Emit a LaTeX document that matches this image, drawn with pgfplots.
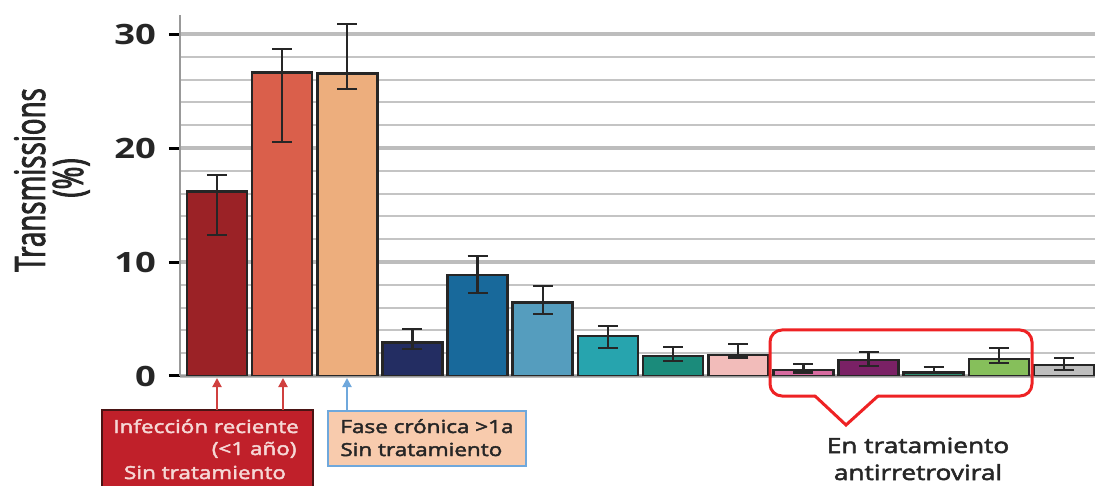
\documentclass[border=0pt]{standalone}
\usepackage{fontspec}
\setmainfont{Open Sans}
\newfontfamily\wideFont{Open Sans}[FakeStretch=1.25, FakeBold=2.5]
\newfontfamily\tickFont{Open Sans}[FakeStretch=1.3]
\newfontfamily\narrowFont{Open Sans}[FakeStretch=0.66, FakeBold=2]
\usepackage{pgfplots}
\pgfplotsset{compat=1.18}
\usetikzlibrary{arrows.meta}

\definecolor{c1}{HTML}{9B2226}
\definecolor{c2}{HTML}{DA5F4B}
\definecolor{c3}{HTML}{EDAE7D}
\definecolor{c4}{HTML}{232D62}
\definecolor{c5}{HTML}{18699B}
\definecolor{c6}{HTML}{559DBE}
\definecolor{c7}{HTML}{27A4AE}
\definecolor{c8}{HTML}{1B8B7B}
\definecolor{c9}{HTML}{F2BCBA}
\definecolor{c10}{HTML}{D76BA0}
\definecolor{c11}{HTML}{7A2165}
\definecolor{c12}{HTML}{2E8B6E}
\definecolor{c13}{HTML}{86BF5B}
\definecolor{c14}{HTML}{BEBEBE}
\definecolor{barline}{HTML}{262626}
\definecolor{gridmajor}{HTML}{BDBDBD}
\definecolor{gridminor}{HTML}{C4C4C4}
\definecolor{axisgray}{HTML}{999999}
\definecolor{boxred}{HTML}{C0202A}
\definecolor{boxredline}{HTML}{4A1414}
\definecolor{boxtext}{HTML}{F6D8D6}
\definecolor{peach}{HTML}{F8CBAD}
\definecolor{peachline}{HTML}{6FA8DC}
\definecolor{arrowred}{HTML}{D0403F}
\definecolor{calloutred}{HTML}{EE2224}
\definecolor{darktext}{HTML}{262626}

\pgfplotsset{
  errbar/.style={
    error bars/y dir=both, error bars/y explicit,
    error bars/error bar style={draw=barline, line width=1.1pt},
    error bars/error mark options={draw=barline, line width=1.1pt, mark size=5pt, rotate=90},
  },
}

\begin{document}
\begin{tikzpicture}
\begin{axis}[
  scale only axis, width=457.5pt, height=180.5pt,
  xmin=-0.567, xmax=13.475, ymin=0, ymax=31.67,
  ybar, bar width=0.92, bar shift=0pt,
  axis lines*=left,
  axis line style={draw=axisgray, line width=1.2pt},
  xtick=\empty,
  ytick={0,10,20,30}, minor ytick={2,4,...,28},
  tick align=outside,
  major tick length=5.5pt, minor tick length=0pt,
  major tick style={draw=black, line width=1.5pt},
  ymajorgrids, yminorgrids,
  major grid style={draw=gridmajor, line width=2pt},
  minor grid style={draw=gridminor, line width=1pt},
  /pgf/number format/assume math mode=true,
  yticklabel style={font=\tickFont\bfseries\fontsize{14}{14}\selectfont, text=black!85, xshift=-3pt},
  every axis plot/.append style={draw=barline, line width=1.3pt, errbar},
]
% recent infection, untreated
\addplot[fill=c1]  coordinates {(0,16.2)  += (0,1.4) -= (0,3.8)};
\addplot[fill=c2]  coordinates {(1,26.6)  += (0,2.1) -= (0,6.05)};
% chronic phase, untreated
\addplot[fill=c3]  coordinates {(2,26.55) += (0,4.35) -= (0,1.4)};
\addplot[fill=c4]  coordinates {(3,2.92)  += (0,1.2) -= (0,0.58)};
\addplot[fill=c5]  coordinates {(4,8.86)  += (0,1.69) -= (0,1.61)};
\addplot[fill=c6]  coordinates {(5,6.43)  += (0,1.49) -= (0,0.99)};
\addplot[fill=c7]  coordinates {(6,3.51)  += (0,0.88) -= (0,1.02)};
\addplot[fill=c8]  coordinates {(7,1.75)  += (0,0.76) -= (0,0.43)};
\addplot[fill=c9]  coordinates {(8,1.84)  += (0,0.96) -= (0,0.21)};
% on antiretroviral treatment
\addplot[fill=c10] coordinates {(9,0.53)  += (0,0.52) -= (0,0.23)};
\addplot[fill=c11] coordinates {(10,1.4)  += (0,0.73) -= (0,0.5)};
\addplot[fill=c12] coordinates {(11,0.32) += (0,0.5) -= (0,0.03)};
\addplot[fill=c13] coordinates {(12,1.49) += (0,0.94) -= (0,0.38)};
\addplot[fill=c14] coordinates {(13,0.96) += (0,0.59) -= (0,0.43)};
\end{axis}

% annotations, in a pixel-like grid anchored at the axis origin
\begin{scope}[x=0.5pt, y=-0.5pt, shift={(current axis.south west)}, shift={(-180,-376)}]
  % y label
  \node[rotate=90, anchor=base, inner sep=0pt, text=darktext,
        font=\narrowFont\fontsize{21}{21}\selectfont] at (45,180) {Transmissions};
  \node[rotate=90, anchor=base, inner sep=0pt, text=darktext,
        font=\narrowFont\fontsize{21}{21}\selectfont] at (83,178) {(\%)};

  % recent infection box
  \draw[draw=boxredline, fill=boxred, line width=0.8pt] (102,410) rectangle (313,520);
  \begin{scope}[every node/.style={inner sep=0pt, text=boxtext, font=\wideFont\fontsize{9}{9}\selectfont}]
    \node[anchor=base] at (206,433) {Infección reciente};
    \node[anchor=base east] at (297,455) {(<1 año)};
    \node[anchor=base] at (205,479) {Sin tratamiento};
  \end{scope}
  \draw[arrowred, line width=1pt, -{Triangle[length=4.5pt, width=4.5pt]}] (217,410) -- (217,378);
  \draw[arrowred, line width=1pt, -{Triangle[length=4.5pt, width=4.5pt]}] (283,410) -- (283,378);

  % chronic phase box
  \draw[draw=peachline, fill=peach, line width=0.8pt] (328,411) rectangle (526,466);
  \begin{scope}[every node/.style={inner sep=0pt, text=darktext, font=\wideFont\fontsize{9}{9}\selectfont}]
    \node[anchor=base west] at (340,433) {Fase crónica >1a};
    \node[anchor=base west] at (340,456) {Sin tratamiento};
  \end{scope}
  \draw[peachline, line width=1pt, -{Triangle[length=4.5pt, width=4.5pt]}] (347,411) -- (347,378);

  % callout around the treated groups
  \draw[calloutred, line width=1.5pt, rounded corners=6pt, line cap=round]
    (815,396) -- (770,396) -- (770,330) -- (1032,330) -- (1032,396) -- (878,396);
  \draw[calloutred, line width=1.5pt, line cap=round, line join=miter]
    (815,396) -- (846,425) -- (878,396);
  \begin{scope}[every node/.style={inner sep=0pt, text=darktext, font=\wideFont\fontsize{10.5}{10.5}\selectfont}]
    \node[anchor=base] at (918,453) {En tratamiento};
    \node[anchor=base] at (918,480) {antirretroviral};
  \end{scope}

  \pgfresetboundingbox
  \path[use as bounding box] (0,0) rectangle (1095,486);
\end{scope}
\end{tikzpicture}
\end{document}
